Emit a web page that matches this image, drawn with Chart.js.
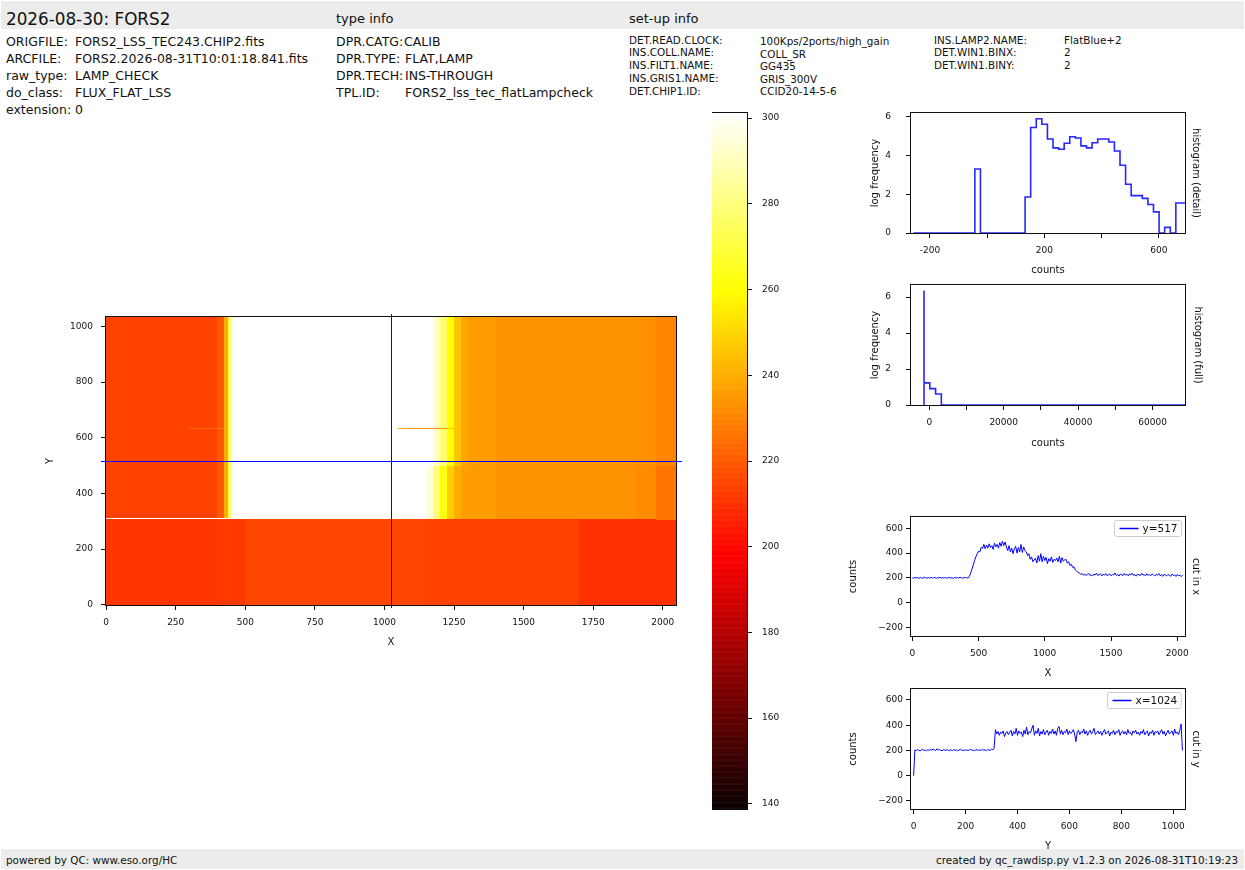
<!DOCTYPE html>
<html><head><meta charset="utf-8">
<script src="https://cdn.jsdelivr.net/npm/chart.js@4.4.1/dist/chart.umd.min.js"></script>
<style>
body{margin:0;width:1245px;height:870px;position:relative;background:#fff;font-family:"DejaVu Sans",sans-serif;color:#111;overflow:hidden}
.t{position:absolute;white-space:pre;line-height:1}
.band{position:absolute;background:#ececec}
canvas{position:absolute}
.h1{font-size:16.8px}.h2{font-size:13px}.l{font-size:12.5px}.s{font-size:10.4px}.f{font-size:10.4px}
</style></head><body>
<div class="band" style="left:1px;top:1px;width:1243px;height:28px"></div>
<div class="band" style="left:1px;top:849px;width:1243px;height:20px"></div>
<div class="t h1" style="left:6px;top:10.5px">2026-08-30: FORS2</div>
<div class="t h2" style="left:336px;top:12px">type info</div>
<div class="t h2" style="left:629px;top:12px">set-up info</div>

<div class="t l" style="left:6px;top:36px">ORIGFILE:</div><div class="t l" style="left:75px;top:36px">FORS2_LSS_TEC243.CHIP2.fits</div>
<div class="t l" style="left:6px;top:52.5px">ARCFILE:</div><div class="t l" style="left:75px;top:52.5px">FORS2.2026-08-31T10:01:18.841.fits</div>
<div class="t l" style="left:6px;top:70px">raw_type:</div><div class="t l" style="left:75px;top:70px">LAMP_CHECK</div>
<div class="t l" style="left:6px;top:87px">do_class:</div><div class="t l" style="left:75px;top:87px">FLUX_FLAT_LSS</div>
<div class="t l" style="left:6px;top:104px">extension:</div><div class="t l" style="left:75px;top:104px">0</div>

<div class="t l" style="left:336px;top:36px">DPR.CATG:</div><div class="t l" style="left:404px;top:36px">CALIB</div>
<div class="t l" style="left:336px;top:52.5px">DPR.TYPE:</div><div class="t l" style="left:405px;top:52.5px">FLAT,LAMP</div>
<div class="t l" style="left:336px;top:70px">DPR.TECH:</div><div class="t l" style="left:405px;top:70px">INS-THROUGH</div>
<div class="t l" style="left:336px;top:87px">TPL.ID:</div><div class="t l" style="left:405px;top:87px">FORS2_lss_tec_flatLampcheck</div>

<div class="t s" style="left:629px;top:35px">DET.READ.CLOCK:</div><div class="t s" style="left:760px;top:35.5px">100Kps/2ports/high_gain</div>
<div class="t s" style="left:629px;top:47px">INS.COLL.NAME:</div><div class="t s" style="left:760px;top:48.5px">COLL_SR</div>
<div class="t s" style="left:629px;top:59.5px">INS.FILT1.NAME:</div><div class="t s" style="left:760px;top:60.5px">GG435</div>
<div class="t s" style="left:629px;top:73px">INS.GRIS1.NAME:</div><div class="t s" style="left:760px;top:74px">GRIS_300V</div>
<div class="t s" style="left:629px;top:86px">DET.CHIP1.ID:</div><div class="t s" style="left:760px;top:86px">CCID20-14-5-6</div>
<div class="t s" style="left:934px;top:35px">INS.LAMP2.NAME:</div><div class="t s" style="left:1064px;top:35px">FlatBlue+2</div>
<div class="t s" style="left:934px;top:47px">DET.WIN1.BINX:</div><div class="t s" style="left:1064px;top:47px">2</div>
<div class="t s" style="left:934px;top:59.5px">DET.WIN1.BINY:</div><div class="t s" style="left:1064px;top:59.5px">2</div>

<div class="t f" style="left:6px;top:855px">powered by QC: www.eso.org/HC</div>
<div class="t f" style="right:7px;top:855px">created by qc_rawdisp.py v1.2.3 on 2026-08-31T10:19:23</div>

<canvas id="cImg" width="642" height="341" style="left:44px;top:307px"></canvas>
<canvas id="cBar" width="95" height="712" style="left:712px;top:105px"></canvas>
<canvas id="cHd" width="333" height="171" style="left:869px;top:105px"></canvas>
<canvas id="cHf" width="335" height="172" style="left:869px;top:277px"></canvas>
<canvas id="cCx" width="355" height="170" style="left:847px;top:509px"></canvas>
<canvas id="cCy" width="355" height="171" style="left:847px;top:681px"></canvas>

<script>
// ================= DATA =================
// colour scale (counts)
const cbMin = 138.8, cbMax = 301.2;
const cbTicks = [140,160,180,200,220,240,260,280,300];

// 2D image: column edges (X pixels), row edges (Y pixels), one value list per row band
const imgColEdges = [0,100,200,300,400,425,440,450,460,500,600,700,800,900,1000,1050,1100,1150,1175,1200,1225,1250,1275,1300,1400,1500,1600,1700,1800,1900,1975,2048];
const imgRowEdges = [0,305,311,314,500,632,636,1034];
const rowBottom     = [211,211,211,211,212,212,212,212,212,215,215,215,215,215,215,215,215,214,214,214,214,214,214,214,214,214,214,210,210,210,210];
const rowBottomEdge = [211,211,211,211,212,212,212,212,212,215,215,215,215,215,215,215,215,214,214,214,214,214,214,214,214,214,214,210,210,210,226];
const rowWhiteLine  = [305,305,305,305,305,305,305,305,305,305,305,305,305,305,305,305,305,295,280,262,248,240,237,236,234,234,234,234,234,232,226];
const rowTopLow     = [214,214,214,214,220,240,275,300,305,305,305,305,305,305,305,305,305,295,280,262,248,240,237,236,234,234,234,234,234,232,226];
const rowTopHigh    = [214,214,214,214,220,240,275,300,305,305,305,305,305,305,305,305,305,302,292,278,260,246,239,236,234,234,234,234,234,233,230];
const rowStreak     = [214,214,214,224,226,240,275,300,305,305,305,305,305,305,305,238,236,236,234,236,245,246,239,236,234,234,234,234,234,233,230];
const imgRowBands = [rowBottom,rowBottomEdge,rowWhiteLine,rowTopLow,rowTopHigh,rowStreak,rowTopHigh];
const imgXTicks = [0,250,500,750,1000,1250,1500,1750,2000];
const imgYTicks = [0,200,400,600,800,1000];
const crossX = 1024, crossY = 517;

// histogram (detail): log10 frequency per bin
const histDetailStart = -257.5, histDetailWidth = 19.5;
const histDetailLog = [0,0,0,0,0,0,0,0,0,0,0,0,3.31,0,0,0,0,0,0,0,0,
  1.86,5.45,5.9,5.62,4.86,4.4,4.33,4.64,4.97,4.91,4.5,4.4,4.66,4.86,4.86,4.7,4.24,3.5,2.52,1.93,1.93,1.79,1.47,1.09,0,0.29,0,1.55];
const histDetailXTicks = [-200,0,200,400,600];
const histDetailXLabels = ['-200','','200','','600'];
const histYTicks = [0,2,4,6];

// histogram (full)
const histFullStart = -1400, histFullWidth = 1550, histFullEnd = 69000;
const histFullLog = [6.36,1.23,0.91,0.61,0];
const histFullXTicks = [0,10000,20000,30000,40000,50000,60000];
const histFullXLabels = ['0','','20000','','40000','','60000'];

// cut in x at y=517 (one value every 10 px)
const cutXStep = 10;
const cutXVals = [
 201,197,205,199,203,196,204,200,198,206,202,197,203,199,205,198,201,204,197,202,
 200,206,198,203,199,204,197,202,205,199,201,196,204,200,203,198,206,201,197,204,
 200,203,199,
 212,238,270,305,340,372,395,415,410,448,438,
 470,435,465,440,475,445,460,430,480,450,470,440,485,455,495,460,490,
 450,420,460,410,440,395,435,
 455,400,445,410,470,405,450,420,
 410,380,395,350,370,330,345,
 360,320,380,335,395,330,375,340,365,315,355,335,370,325,350,340,360,330,375,320,365,335,345,
 350,320,330,300,310,285,290,265,255,245,240,230,235,
 222,232,218,228,236,220,226,215,230,224,238,219,227,233,216,229,222,235,218,226,
 231,217,228,223,240,220,227,215,232,225,219,236,222,229,217,233,224,238,220,226,
 214,231,225,219,237,223,228,216,234,221,227,218,232,224,216,229,221,235,218,226,
 213,230,222,217,228,220,214,231,219,225,212,227,218,222,210,224];

// cut in y at x=1024 (one value every 5 px)
const cutYStep = 5;
const cutYVals = [0,
 205,198,207,201,196,204,209,199,203,197,206,200,208,202,211,205,199,213,204,207,
 201,198,206,203,200,208,197,204,202,199,207,201,205,198,203,209,200,204,197,206,
 202,199,205,208,201,203,196,207,204,200,206,199,210,202,205,198,207,203,200,212,206,
 215,
 365,330,350,320,345,335,355,310,340,350,325,345,360,315,350,330,375,320,355,335,
 345,310,360,330,385,325,350,340,370,400,320,355,335,375,315,350,330,365,325,345,
 360,320,350,335,370,330,355,320,375,390,330,360,325,350,340,370,325,355,335,345,
 365,330,270,345,360,325,350,340,370,330,355,320,345,360,330,350,375,325,340,355,
 330,350,320,345,365,330,340,355,315,345,335,360,325,350,340,365,320,345,355,330,
 350,325,365,335,345,320,355,340,360,330,345,320,350,335,365,325,340,355,315,345,
 335,360,320,350,340,355,325,345,365,330,350,315,340,360,330,345,355,320,370,335,
 345,325,360,
 410,200];
const cutYTicks = [-200,0,200,400,600];
const cutYLabels = ['\u2212200','0','200','400','600'];
const cutXXTicks = [0,500,1000,1500,2000];
const cutYXTicks = [0,200,400,600,800,1000];

// ================= RENDERING =================
const FAM = '"DejaVu Sans", sans-serif';
const INK = '#111';
const BLUE = '#0000ff';

function hot(v){
  const f = Math.min(1, Math.max(0, (v - cbMin) / (cbMax - cbMin)));
  const r = f < 0.365079 ? 0.0416 + (1 - 0.0416) * f / 0.365079 : 1;
  const g = f < 0.365079 ? 0 : (f < 0.746032 ? (f - 0.365079) / (0.746032 - 0.365079) : 1);
  const b = f < 0.746032 ? 0 : (f - 0.746032) / (1 - 0.746032);
  return `rgb(${Math.round(r*255)},${Math.round(g*255)},${Math.round(b*255)})`;
}

function mkAxis(o){
  const isV = o.pos === 'left' || o.pos === 'right';
  const show = !!o.ticks;
  return {
    type:'linear', position:o.pos, min:o.min, max:o.max, display:true,
    border:{display:false},
    grid:{display:show, drawOnChartArea:false, drawTicks:true, tickLength:o.tl || 5, color:INK, tickColor:INK, lineWidth:1},
    ticks:{display:show, autoSkip:false, maxRotation:0, minRotation:0, padding:(o.pad !== undefined ? o.pad : 5), color:INK,
      font:{family:FAM, size:9}, callback:(v, i) => o.labels ? o.labels[i] : String(v)},
    afterBuildTicks: s => { s.ticks = (o.ticks || []).map(v => ({value:v})); },
    afterFit: s => {
      if (isV) { s.width = o.size; s.paddingTop = 0; s.paddingBottom = 0; }
      else { s.height = o.size; s.paddingLeft = 0; s.paddingRight = 0; }
    },
    title: o.title ? {display:true, text:o.title, color:INK, font:{family:FAM, size:10}, padding:0} : {display:false}
  };
}

const framePlugin = {
  id:'frame',
  afterDatasetsDraw(chart){
    const a = chart.chartArea, c = chart.ctx;
    c.save(); c.strokeStyle = INK; c.lineWidth = 1;
    c.strokeRect(Math.round(a.left) - 0.5, Math.round(a.top) - 0.5, Math.round(a.right) - Math.round(a.left) + 1, Math.round(a.bottom) - Math.round(a.top) + 1);
    c.restore();
  }
};

const legendPlugin = {
  id:'boxLegend',
  afterDatasetsDraw(chart){
    const ds = chart.data.datasets[0], a = chart.chartArea, c = chart.ctx;
    c.save();
    c.font = `10.5px ${FAM}`;
    const tw = c.measureText(ds.label).width;
    const w = 5 + 19 + 4 + tw + 4, h = 16;
    const x0 = Math.round(a.right - 4 - w) + 0.5, y0 = Math.round(a.top + 3) + 0.5;
    c.beginPath();
    if (c.roundRect) c.roundRect(x0, y0, w, h, 2); else c.rect(x0, y0, w, h);
    c.fillStyle = 'rgba(255,255,255,0.85)'; c.fill();
    c.strokeStyle = '#cccccc'; c.lineWidth = 1; c.stroke();
    c.beginPath(); c.moveTo(x0 + 5, y0 + h/2); c.lineTo(x0 + 24, y0 + h/2);
    c.strokeStyle = BLUE; c.lineWidth = 1.5; c.stroke();
    c.fillStyle = INK; c.textBaseline = 'middle'; c.textAlign = 'left';
    c.fillText(ds.label, x0 + 28, y0 + h/2 + 0.5);
    c.restore();
  }
};

const heatmapPlugin = {
  id:'heatmap',
  beforeDatasetsDraw(chart){
    const {ctx, chartArea:a, scales:{x, y}} = chart;
    ctx.save(); ctx.beginPath(); ctx.rect(a.left, a.top, a.width, a.height); ctx.clip();
    for (let r = 0; r < imgRowBands.length; r++){
      const p0 = y.getPixelForValue(imgRowEdges[r] - 0.5), p1 = y.getPixelForValue(imgRowEdges[r+1] - 0.5);
      let top = Math.round(Math.min(p0, p1)), bot = Math.round(Math.max(p0, p1));
      if (bot <= top) bot = top + 1;
      const vals = imgRowBands[r];
      for (let c = 0; c < vals.length; c++){
        let x0 = Math.round(x.getPixelForValue(imgColEdges[c] - 0.5)), x1 = Math.round(x.getPixelForValue(imgColEdges[c+1] - 0.5));
        if (x1 <= x0) x1 = x0 + 1;
        ctx.fillStyle = hot(vals[c]);
        ctx.fillRect(x0, top, x1 - x0, bot - top);
      }
    }
    ctx.restore();
  },
  afterDraw(chart){
    const {ctx, chartArea:a, scales:{x, y}} = chart;
    const px = Math.round(x.getPixelForValue(crossX)) + 0.5, py = Math.round(y.getPixelForValue(crossY)) + 0.5;
    ctx.save(); ctx.strokeStyle = BLUE; ctx.lineWidth = 1;
    ctx.beginPath(); ctx.moveTo(px, a.top - 3); ctx.lineTo(px, a.bottom + 3); ctx.stroke();
    ctx.beginPath(); ctx.moveTo(a.left - 5, py); ctx.lineTo(a.right + 6, py); ctx.stroke();
    ctx.restore();
  }
};

const colorbarPlugin = {
  id:'colorbar',
  beforeDatasetsDraw(chart){
    const {ctx, chartArea:a, scales:{y}} = chart;
    const step = 0.2;
    for (let v = cbMin; v < cbMax; v += step){
      const p0 = y.getPixelForValue(v), p1 = y.getPixelForValue(Math.min(cbMax, v + step));
      ctx.fillStyle = hot(v + step/2);
      ctx.fillRect(a.left, p1, a.width, p0 - p1 + 0.6);
    }
  }
};

const baseOpts = {responsive:false, animation:false, events:[],
  plugins:{legend:{display:false}, tooltip:{enabled:false}}};

function stepPoints(start, width, vals, end){
  const pts = [{x:start, y:0}];
  vals.forEach((v, i) => pts.push({x:start + i*width, y:v}));
  pts.push({x: end !== undefined ? end : start + vals.length*width, y: vals[vals.length-1]});
  return pts;
}

// ---- image ----
new Chart(document.getElementById('cImg'), {
  type:'scatter',
  data:{datasets:[{data:[]}]},
  options:Object.assign({}, baseOpts, {
    layout:{padding:{top:10, right:10, left:0, bottom:0}},
    scales:{
      x: mkAxis({pos:'bottom', min:-0.5, max:2047.5, size:43, ticks:imgXTicks, title:'X', pad:7}),
      y: mkAxis({pos:'left', min:-0.5, max:1033.5, size:62, ticks:imgYTicks, title:'Y', pad:8})
    }
  }),
  plugins:[heatmapPlugin, framePlugin]
});

// ---- colour bar ----
new Chart(document.getElementById('cBar'), {
  type:'scatter',
  data:{datasets:[{data:[]}]},
  options:Object.assign({}, baseOpts, {
    layout:{padding:{top:8, right:0, left:0, bottom:8}},
    scales:{
      x:{display:false, type:'linear', min:0, max:1},
      y: mkAxis({pos:'right', min:cbMin, max:cbMax, size:60, ticks:cbTicks, pad:10})
    }
  }),
  plugins:[colorbarPlugin, framePlugin]
});

// ---- histogram detail ----
new Chart(document.getElementById('cHd'), {
  type:'line',
  data:{datasets:[{data:stepPoints(histDetailStart, histDetailWidth, histDetailLog), stepped:'after',
    borderColor:'rgba(0,0,255,0.85)', borderWidth:1.6, pointRadius:0, fill:false}]},
  options:Object.assign({}, baseOpts, {
    layout:{padding:{top:8, right:0, left:0, bottom:0}},
    scales:{
      x: mkAxis({pos:'bottom', min:-266, max:691, size:43, ticks:histDetailXTicks, labels:histDetailXLabels, title:'counts', pad:7}),
      y: mkAxis({pos:'left', min:0, max:6.2, size:42, ticks:histYTicks, title:'log frequency', pad:15}),
      y2: mkAxis({pos:'right', min:0, max:1, size:17, title:'histogram (detail)'})
    }
  }),
  plugins:[framePlugin]
});

// ---- histogram full ----
new Chart(document.getElementById('cHf'), {
  type:'line',
  data:{datasets:[{data:stepPoints(histFullStart, histFullWidth, histFullLog, histFullEnd), stepped:'after',
    borderColor:'rgba(0,0,255,0.85)', borderWidth:1.6, pointRadius:0, fill:false}]},
  options:Object.assign({}, baseOpts, {
    layout:{padding:{top:8, right:0, left:0, bottom:0}},
    scales:{
      x: mkAxis({pos:'bottom', min:-4900, max:68700, size:44, ticks:histFullXTicks, labels:histFullXLabels, title:'counts', pad:7}),
      y: mkAxis({pos:'left', min:0, max:6.67, size:42, ticks:histYTicks, title:'log frequency', pad:15}),
      y2: mkAxis({pos:'right', min:0, max:1, size:19, title:'histogram (full)'})
    }
  }),
  plugins:[framePlugin]
});

// ---- cut in x ----
new Chart(document.getElementById('cCx'), {
  type:'line',
  data:{datasets:[{label:'y=' + crossY, data:cutXVals.map((v, i) => ({x:i*cutXStep, y:v})),
    borderColor:BLUE, borderWidth:1, pointRadius:0, fill:false, tension:0}]},
  options:Object.assign({}, baseOpts, {
    layout:{padding:{top:8, right:0, left:0, bottom:0}},
    scales:{
      x: mkAxis({pos:'bottom', min:-10, max:2058, size:43, ticks:cutXXTicks, title:'X', pad:7}),
      y: mkAxis({pos:'left', min:-268, max:691, size:64, ticks:cutYTicks, labels:cutYLabels, title:'counts', pad:3}),
      y2: mkAxis({pos:'right', min:0, max:1, size:17, title:'cut in x'})
    }
  }),
  plugins:[framePlugin, legendPlugin]
});

// ---- cut in y ----
new Chart(document.getElementById('cCy'), {
  type:'line',
  data:{datasets:[{label:'x=' + crossX, data:cutYVals.map((v, i) => ({x:i*cutYStep, y:v})),
    borderColor:BLUE, borderWidth:1, pointRadius:0, fill:false, tension:0}]},
  options:Object.assign({}, baseOpts, {
    layout:{padding:{top:8, right:0, left:0, bottom:0}},
    scales:{
      x: mkAxis({pos:'bottom', min:-10, max:1045, size:43, ticks:cutYXTicks, title:'Y', pad:7}),
      y: mkAxis({pos:'left', min:-264, max:687, size:64, ticks:cutYTicks, labels:cutYLabels, title:'counts', pad:3}),
      y2: mkAxis({pos:'right', min:0, max:1, size:17, title:'cut in y'})
    }
  }),
  plugins:[framePlugin, legendPlugin]
});
</script>
</body></html>
